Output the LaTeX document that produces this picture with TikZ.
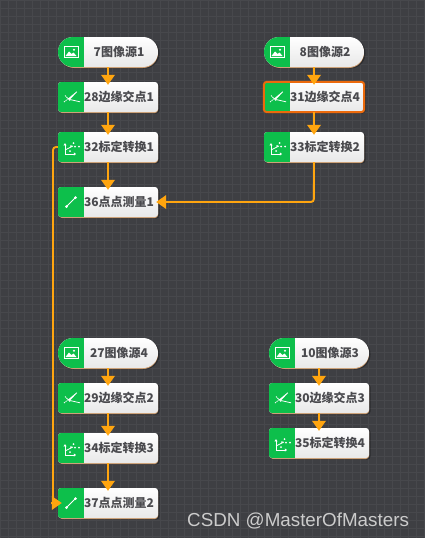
\documentclass[tikz,border=0pt]{standalone}
\usepackage{fontspec}
\newfontfamily\cjk{Noto Sans CJK SC}
\newfontfamily\wm{Liberation Sans}
\usetikzlibrary{arrows.meta,shadows}
\definecolor{bgc}{HTML}{3E3F43}
\definecolor{gridc}{HTML}{47484C}
\definecolor{gc}{HTML}{0DBF4B}
\definecolor{oc}{HTML}{FFA50F}
\definecolor{sel}{HTML}{EC6A0C}
\definecolor{txt}{HTML}{4A4A4E}
\definecolor{edgec}{HTML}{C9986A}
\tikzset{
  bodybox/.style={minimum width=100pt,minimum height=30pt,inner sep=0pt,top color=white,bottom color=black!9,rounded corners=#1},
  lab/.style={font=\cjk\bfseries\fontsize{12}{14}\selectfont,text=txt,inner sep=0pt},
  conn/.style={draw=oc,line width=1.9pt},
  flow/.style={conn,-{Triangle[length=10pt,width=13.5pt]},shorten >=-3pt},
  ico/.style={draw=white,line width=0.9pt},
  watermark/.style={font=\wm\fontsize{18.8}{20}\selectfont,text=black!20,inner sep=0pt}
}
\newcommand{\icoimg}{%
  \draw[ico] (-7,-5.5) rectangle (7,5.5);
  \fill[white] (-5.5,4) -- (-2,-0.5) -- (0.5,2) -- (2.5,0.5) -- (5.5,4) -- cycle;
  \fill[white] (3,-2.2) circle (1.1pt);
}
\newcommand{\icoedge}{%
  \fill[white] (-3,1.6) -- (5.7,-5.6) -- (6.1,-5) -- (-0.8,2.2) -- (9,4.4) -- (9,5.2) -- (-1.5,2.8) -- cycle;
  \draw[ico,line width=0.8pt,dash pattern=on 1.3pt off 0.8pt] (-7,5) -- (-2.7,1.5);
  \draw[ico,line width=0.8pt,dash pattern=on 1.3pt off 0.8pt] (-6,-1.5) -- (-1,3.5);
}
\newcommand{\icocal}{%
  \draw[ico,line width=0.9pt,-{Triangle[length=2.2pt,width=3pt]}] (-6,7) -- (-6,-3.8);
  \draw[ico,line width=0.9pt,-{Triangle[length=2.2pt,width=3pt]}] (-6,7) -- (5,7);
  \draw[ico,line width=0.8pt] (-6,3) -- (2,-1);
  \foreach \p in {(0,-1),(2.5,-4),(4,-0.5),(8,-0.5),(-1,4)} \fill[white] \p circle (1pt);
}
\newcommand{\icomeas}{%
  \draw[ico,line width=0.9pt] (-4.5,4.5) -- (4.5,-4.5);
  \fill[white] (-4.5,4.5) circle (1.5pt) (4.5,-4.5) circle (1.5pt);
}
% name, x left, y top, label, icon, corner radius
\newcommand{\blk}[6]{%
  \fill[black,opacity=.3] (#2+1,#3+1) [rounded corners=#6pt] rectangle (#2+101.5,#3+31.5);
  \fill[edgec] (#2+1,#3+1) [rounded corners=#6pt] rectangle (#2+100,#3+31);
  \node[bodybox=#6pt] (#1) at (#2+50,#3+15) {};
  \begin{scope}
    \clip[rounded corners=#6pt] (#2,#3) rectangle (#2+100,#3+30);
    \fill[gc] (#2,#3) rectangle (#2+26,#3+30);
  \end{scope}
  \begin{scope}[shift={(#2+13,#3+15)}] #5 \end{scope}
  \node[lab] (#1t) at (#2+61,#3+15) {#4};
}
\begin{document}
\begin{tikzpicture}[x=1pt,y=-1pt]
\useasboundingbox (0,0) rectangle (424,538);
\fill[bgc] (0,0) rectangle (424,538);
\foreach \i in {0,8,...,424} \draw[gridc,line width=0.6pt] (\i,0) -- (\i,538);
\foreach \i in {0,8,...,538} \draw[gridc,line width=0.6pt] (0,\i) -- (424,\i);

\blk{a7}{58}{37}{7图像源1}{\icoimg}{15}
\blk{a28}{58}{82}{28边缘交点1}{\icoedge}{3}
\blk{a32}{58}{132}{32标定转换1}{\icocal}{3}
\blk{a36}{58}{187}{36点点测量1}{\icomeas}{3}

\blk{b8}{264}{37}{8图像源2}{\icoimg}{15}
\blk{b31}{264}{82}{31边缘交点4}{\icoedge}{3}
\draw[sel,line width=2pt,rounded corners=3pt] (b31.south west) rectangle (b31.north east);
\blk{b33}{264}{132}{33标定转换2}{\icocal}{3}

\blk{c27}{58}{338}{27图像源4}{\icoimg}{15}
\blk{c29}{58}{383}{29边缘交点2}{\icoedge}{3}
\blk{c34}{58}{433}{34标定转换3}{\icocal}{3}
\blk{c37}{58}{488}{37点点测量2}{\icomeas}{3}

\blk{d10}{269}{338}{10图像源3}{\icoimg}{15}
\blk{d30}{269}{383}{30边缘交点3}{\icoedge}{3}
\blk{d35}{269}{428}{35标定转换4}{\icocal}{3}

\draw[flow] (a7) -- (a28);
\draw[flow] (a28) -- (a32);
\draw[flow] (a32) -- (a36);
\draw[flow] (b8) -- (b31);
\draw[flow] (b31) -- (b33);
\draw[flow] (c27) -- (c29);
\draw[flow] (c29) -- (c34);
\draw[flow] (c34) -- (c37);
\draw[flow] (d10) -- (d30);
\draw[flow] (d30) -- (d35);

\coordinate (k1) at (313.9,202);
\draw[flow,rounded corners=3pt,shorten >=-2pt] (b33.south) -- (k1) -- (a36.east);

\coordinate (k2) at (53,147);
\coordinate (k3) at (53,503);
\draw[conn,rounded corners=3pt] (a32.west) -- (k2) -- (k3);
\draw[flow,shorten >=-4pt] (51,503) -- (c37.west);

\node[watermark,anchor=west] (wm) at (187,521) {CSDN @MasterOfMasters};
\end{tikzpicture}
\end{document}
